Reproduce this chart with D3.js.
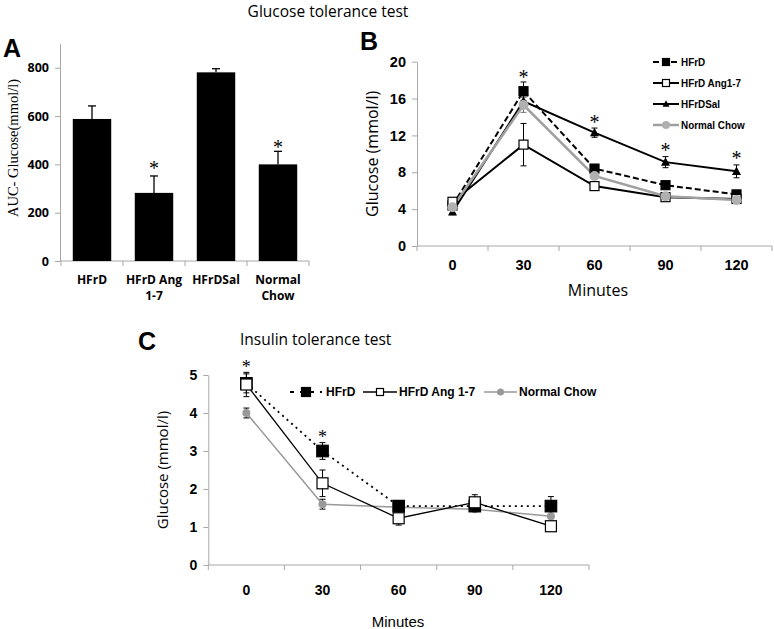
<!DOCTYPE html>
<html><head><meta charset="utf-8">
<script src="https://cdn.jsdelivr.net/npm/d3@7"></script>
<style>
body{margin:0;background:#fff}
svg{display:block}
</style></head><body>
<svg id="c" width="774" height="629"></svg>
<script>
// ---------- DATA ----------
const minutes = ["0","30","60","90","120"];
// Panel A
const aCats = ["HFrD","HFrD Ang 1-7","HFrDSal","Normal Chow"];
const aLabels = [["HFrD"],["HFrD Ang","1-7"],["HFrDSal"],["Normal","Chow"]];
const aValues = [588, 282, 781, 400];
const aErr = [54, 70, 15, 54];
const aTicks = [0,200,400,600,800];
const aStars = [["HFrD Ang 1-7", 389], ["Normal Chow", 478]];
// Panel B (glucose tolerance)
const bHFrD = [4.4, 16.8, 8.4, 6.6, 5.6];
const bHFrDErr = [0.3, 1.0, 0.4, 0.3, 0.3];
const bAng = [4.8, 11.0, 6.5, 5.3, 5.1];
const bAngErr = [0.3, 2.3, 0.3, 0.3, 0.3];
const bSal = [3.7, 15.7, 12.3, 9.1, 8.1];
const bSalErr = [0.3, 0.6, 0.5, 0.6, 0.7];
const bChow = [4.2, 15.3, 7.6, 5.4, 5.0];
const bChowErr = [0.3, 0.8, 0.3, 0.3, 0.2];
const bTicks = [0,4,8,12,16,20];
const bNames = ["HFrD","HFrD Ang1-7","HFrDSal","Normal Chow"];
const bStars = [["30",18.5],["60",13.6],["90",10.6],["120",9.7]];
// Panel C (insulin tolerance)
const cHFrD = [4.78, 3.0, 1.55, 1.55, 1.55];
const cHFrDErr = [0.25, 0.22, 0.12, 0.12, 0.25];
const cAng = [4.75, 2.15, 1.23, 1.65, 1.02];
const cAngErr = [0.32, 0.35, 0.18, 0.2, 0.1];
const cChow = [4.0, 1.6, 1.52, 1.47, 1.28];
const cChowErr = [0.13, 0.13, 0.05, 0.05, 0.05];
const cTicks = [0,1,2,3,4,5];
const cNames = ["HFrD","HFrD Ang 1-7","Normal Chow"];
const cStars = [["0",5.26],["30",3.42]];

const svg = d3.select("#c");
const axisCol = "#a8a8a8";
const ARIAL = "Liberation Sans, Arial, sans-serif";
const OPEN = "Open Sans, sans-serif";

// ---------- TITLES ----------
svg.append("text").attr("x",328).attr("y",17).attr("text-anchor","middle")
  .attr("font-family",OPEN).attr("font-size",15.5).text("Glucose tolerance test");
svg.append("text").attr("x",3).attr("y",57).attr("font-family",ARIAL).attr("font-weight","bold").attr("font-size",25).text("A");
svg.append("text").attr("x",360).attr("y",50).attr("font-family",ARIAL).attr("font-weight","bold").attr("font-size",25).text("B");
svg.append("text").attr("x",138).attr("y",350).attr("font-family",ARIAL).attr("font-weight","bold").attr("font-size",25).text("C");
svg.append("text").attr("x",240).attr("y",345).attr("font-family",OPEN)
  .attr("font-size",15.5).text("Insulin tolerance test");

function star(g, x, y, size){
  g.append("text").attr("x",x).attr("y",y+size*0.42).attr("text-anchor","middle")
    .attr("font-family","Liberation Serif,serif").attr("font-size",size).text("*");
}

// ---------- PANEL A ----------
(function(){
  const g = svg.append("g");
  const x = d3.scaleBand().domain(aCats).range([61,309]).paddingInner(0.38).paddingOuter(0.19);
  const y = d3.scaleLinear().domain([0,900]).range([261,43.6]);
  const ya = g.append("g").attr("transform","translate(60,0)")
    .call(d3.axisLeft(y).tickValues(aTicks).tickSize(5).tickSizeOuter(0).tickPadding(6));
  ya.attr("font-family",OPEN);
  ya.select(".domain").attr("stroke",axisCol);
  ya.selectAll(".tick line").attr("stroke",axisCol);
  ya.selectAll(".tick text").attr("font-weight","bold").attr("font-size",12.5).attr("fill","#000");
  g.append("line").attr("x1",60).attr("x2",309).attr("y1",y(0)).attr("y2",y(0)).attr("stroke",axisCol);
  const step = x.step();
  d3.range(aCats.length+1).forEach(i=>{
    const xx = 61 + i*step;
    g.append("line").attr("x1",xx).attr("x2",xx).attr("y1",y(0)).attr("y2",y(0)+5).attr("stroke",axisCol);
  });
  g.selectAll("rect.bar").data(aValues).enter().append("rect").attr("class","bar")
    .attr("x",(d,i)=>x(aCats[i])).attr("width",x.bandwidth())
    .attr("y",d=>y(d)).attr("height",d=>y(0)-y(d)).attr("fill","#000");
  aValues.forEach((v,i)=>{
    const cx = x(aCats[i]) + x.bandwidth()/2;
    g.append("line").attr("x1",cx).attr("x2",cx).attr("y1",y(v)).attr("y2",y(v+aErr[i])).attr("stroke","#000").attr("stroke-width",1.3);
    g.append("line").attr("x1",cx-4).attr("x2",cx+4).attr("y1",y(v+aErr[i])).attr("y2",y(v+aErr[i])).attr("stroke","#000").attr("stroke-width",1.3);
  });
  aStars.forEach(s=> star(g, x(s[0])+x.bandwidth()/2, y(s[1]), 20));
  aLabels.forEach((lines,i)=>{
    const cx = x(aCats[i]) + x.bandwidth()/2;
    lines.forEach((t,j)=>{
      g.append("text").attr("x",cx).attr("y",284+j*16).attr("text-anchor","middle")
        .attr("font-family",OPEN).attr("font-weight","bold").attr("font-size",12).text(t);
    });
  });
  g.append("text").attr("transform","translate(18,148) rotate(-90)").attr("text-anchor","middle")
    .attr("font-family","Liberation Serif,serif").attr("font-size",14.5).text("AUC- Glucose(mmol/l)");
})();

// ---------- LINE PANEL HELPER ----------
function marker(g, s, x, y){
  const r = s.ms/2;
  if(s.shape==="square") g.append("rect").attr("x",x-r).attr("y",y-r).attr("width",s.ms).attr("height",s.ms).attr("fill",s.mfill).attr("stroke",s.mstroke).attr("stroke-width",1.2);
  else if(s.shape==="circle") g.append("circle").attr("cx",x).attr("cy",y).attr("r",r).attr("fill",s.mfill);
  else if(s.shape==="tri") g.append("path").attr("d",`M${x},${y-r*1.1}L${x+r},${y+r*0.8}L${x-r},${y+r*0.8}Z`).attr("fill",s.mfill);
}
function linePanel(opt){
  const g = svg.append("g");
  const x = d3.scaleBand().domain(minutes).range(opt.xr);
  const y = d3.scaleLinear().domain(opt.yd).range(opt.yr);
  const cx = m => x(m) + x.bandwidth()/2;
  const ya = g.append("g").attr("transform",`translate(${opt.xr[0]},0)`)
    .call(d3.axisLeft(y).tickValues(opt.ticks).tickFormat(d3.format("d")).tickSize(5).tickSizeOuter(0).tickPadding(opt.tickPad));
  ya.attr("font-family",ARIAL);
  ya.select(".domain").attr("stroke",axisCol);
  ya.selectAll(".tick line").attr("stroke",axisCol);
  ya.selectAll(".tick text").attr("font-weight","bold").attr("font-size",opt.tickFs).attr("fill","#000");
  g.append("line").attr("x1",opt.xr[0]).attr("x2",opt.xr[1]).attr("y1",y(0)).attr("y2",y(0)).attr("stroke",axisCol);
  d3.range(minutes.length+1).forEach(i=>{
    const xx = opt.xr[0] + i*x.step();
    g.append("line").attr("x1",xx).attr("x2",xx).attr("y1",y(0)).attr("y2",y(0)+5).attr("stroke",axisCol);
  });
  minutes.forEach(m=>{
    g.append("text").attr("x",cx(m)).attr("y",opt.xLabY).attr("text-anchor","middle")
      .attr("font-family",ARIAL).attr("font-weight","bold").attr("font-size",opt.tickFs).text(m);
  });
  const line = d3.line().x((d,i)=>cx(minutes[i])).y(d=>y(d));
  opt.series.forEach(s=>{
    g.append("path").datum(s.v).attr("d",line).attr("fill","none").attr("stroke",s.stroke)
      .attr("stroke-width",s.sw).attr("stroke-dasharray",s.dash||null);
  });
  opt.series.forEach(s=>{
    s.v.forEach((v,i)=>{
      const xx = cx(minutes[i]), e = s.e[i];
      g.append("line").attr("x1",xx).attr("x2",xx).attr("y1",y(v-e)).attr("y2",y(v+e)).attr("stroke",s.ecol||"#000").attr("stroke-width",1);
      [v-e, v+e].forEach(t=> g.append("line").attr("x1",xx-3).attr("x2",xx+3).attr("y1",y(t)).attr("y2",y(t)).attr("stroke",s.ecol||"#000").attr("stroke-width",1));
    });
  });
  opt.series.forEach(s=>{
    s.v.forEach((v,i)=> marker(g, s, cx(minutes[i]), y(v)));
  });
  opt.stars.forEach(s=> star(g, cx(s[0]), y(s[1]), opt.starFs));
  g.append("text").attr("x",opt.xTitleX).attr("y",opt.xTitleY).attr("text-anchor","middle")
    .attr("font-family",opt.xTitleFont).attr("font-size",opt.xTitleFs).text("Minutes");
  g.append("text").attr("transform",`translate(${opt.yTitleX},${(opt.yr[0]+opt.yr[1])/2}) rotate(-90)`)
    .attr("text-anchor","middle").attr("font-family",OPEN).attr("font-size",opt.yTitleFs).text("Glucose (mmol/l)");
  return {g,x,y};
}
function legendRow(g, s, x1, x2, y, tx, label, fs, sx){
  g.append("line").attr("x1",x1).attr("x2",x2).attr("y1",y).attr("y2",y).attr("stroke",s.stroke).attr("stroke-width",s.sw).attr("stroke-dasharray",s.dash||null);
  marker(g, s, (x1+x2)/2, y);
  g.append("text").attr("transform",`translate(${tx},${y+fs*0.36}) scale(${sx},1)`)
    .attr("font-family",ARIAL).attr("font-weight","bold").attr("font-size",fs).text(label);
}

// ---------- PANEL B ----------
const sBChow = {v:bChow, e:bChowErr, stroke:"#a0a0a0", sw:2.5, shape:"circle", ms:10, mfill:"#b0b0b0", ecol:"#777"};
const sBHFrD = {v:bHFrD, e:bHFrDErr, stroke:"#000", sw:2, dash:"6,3", shape:"square", ms:9, mfill:"#000", mstroke:"#000"};
const sBAng = {v:bAng, e:bAngErr, stroke:"#000", sw:2, shape:"square", ms:9, mfill:"#fff", mstroke:"#000"};
const sBSal = {v:bSal, e:bSalErr, stroke:"#000", sw:2, shape:"tri", ms:9, mfill:"#000"};
const B = linePanel({xr:[417,772], yd:[0,20], yr:[246,61.7], ticks:bTicks, tickPad:6, tickFs:14.5,
  xLabY:270, series:[sBHFrD,sBAng,sBSal,sBChow], stars:bStars, starFs:20,
  xTitleX:598, xTitleY:296, xTitleFont:OPEN, xTitleFs:16, yTitleX:378, yTitleFs:16});
const bLegY = [62, 83, 104, 125];
[sBHFrD,sBAng,sBSal,sBChow].forEach((s,i)=>{
  const ls = Object.assign({}, s, {ms: s.ms-2});
  legendRow(B.g, ls, 653, 679, bLegY[i], 681, bNames[i], 11, 0.9);
});

// ---------- PANEL C ----------
const sCChow = {v:cChow, e:cChowErr, stroke:"#999", sw:1.5, shape:"circle", ms:8, mfill:"#999", ecol:"#000"};
const sCHFrD = {v:cHFrD, e:cHFrDErr, stroke:"#000", sw:1.8, dash:"2,4", shape:"square", ms:11.5, mfill:"#000", mstroke:"#000"};
const sCAng = {v:cAng, e:cAngErr, stroke:"#000", sw:1.3, shape:"square", ms:11, mfill:"#fff", mstroke:"#000"};
const C = linePanel({xr:[208.3,589], yd:[0,5], yr:[565,375], ticks:cTicks, tickPad:6, tickFs:14,
  xLabY:595, series:[sCChow,sCHFrD,sCAng], stars:cStars, starFs:18,
  xTitleX:398, xTitleY:627, xTitleFont:ARIAL, xTitleFs:15, yTitleX:168, yTitleFs:15});
legendRow(C.g, Object.assign({},sCHFrD,{ms:9,dash:"4,6"}), 290, 322, 392, 326, cNames[0], 12, 1);
legendRow(C.g, Object.assign({},sCAng,{ms:7}), 363, 397, 392, 399, cNames[1], 12, 1);
legendRow(C.g, Object.assign({},sCChow,{ms:7}), 484, 517, 392, 519, cNames[2], 12, 1);
</script>
</body></html>
